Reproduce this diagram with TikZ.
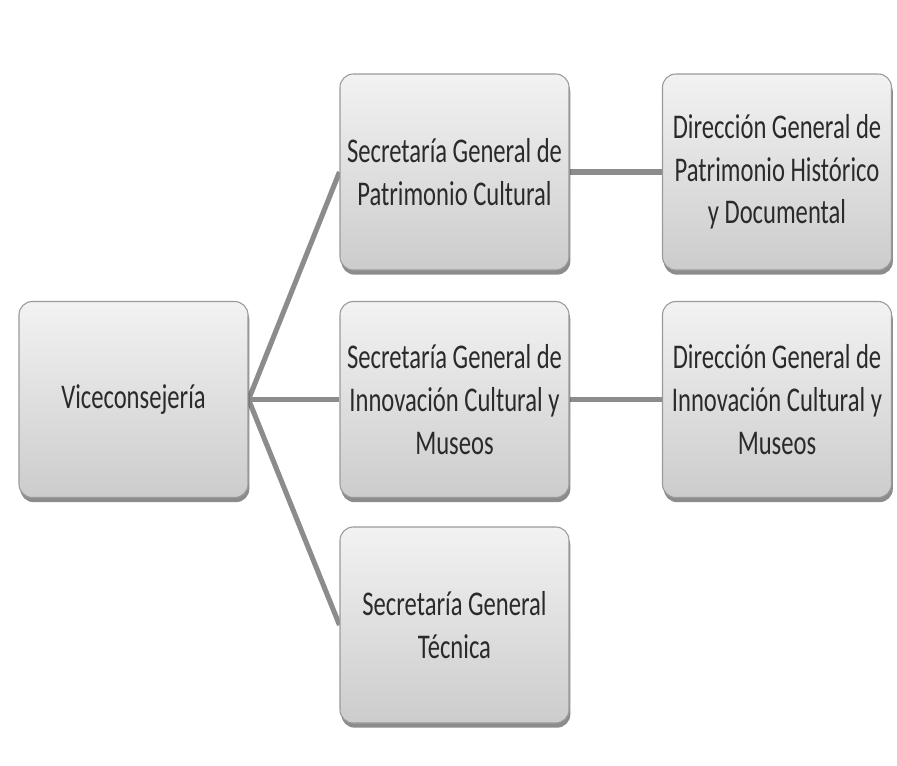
\documentclass[tikz,border=0pt]{standalone}
\usepackage{fontspec}
\usetikzlibrary{shadows,backgrounds}
\newfontfamily\boxfont[FakeStretch=0.71]{Carlito}
\definecolor{linkgray}{HTML}{8C8C8C}
\definecolor{edgegray}{HTML}{9A9A9A}
\definecolor{textgray}{HTML}{2A2A2A}
\tikzset{
  orgbox/.style={
    draw=edgegray, line width=0.8pt, rounded corners=10pt,
    top color=white!95!black, bottom color=white!80!black,
    minimum width=171.75pt, minimum height=147pt,
    align=center, text=textgray,
    font=\boxfont\fontsize{26}{32}\selectfont,
    drop shadow={shadow xshift=1pt, shadow yshift=-3.5pt, opacity=0.45, fill=black}
  },
  orglink/.style={draw=linkgray, line width=3.8pt}
}
\begin{document}
\begin{tikzpicture}[x=0.75pt, y=-0.75pt]
  \useasboundingbox (0,0) rectangle (897,765);

  \node[orgbox] (vice) at (133.5,399.5) {Viceconsejería};
  \node[orgbox] (sgpc) at (454.5,172) {Secretaría General de\\Patrimonio Cultural};
  \node[orgbox] (sgic) at (454.5,399.5) {Secretaría General de\\Innovación Cultural y\\Museos};
  \node[orgbox] (sgt)  at (454.5,625) {Secretaría General\\Técnica};
  \node[orgbox] (dgph) at (777,172) {Dirección General de\\Patrimonio Histórico\\y Documental};
  \node[orgbox] (dgic) at (777,399.5) {Dirección General de\\Innovación Cultural y\\Museos};

  \begin{scope}[on background layer]
    \fill[white] (0,0) rectangle (897,765);
    \draw[orglink] (vice.east) -- (sgpc.west);
    \draw[orglink] (vice.east) -- (sgic.west);
    \draw[orglink] (vice.east) -- (sgt.west);
    \draw[orglink] (sgpc.east) -- (dgph.west);
    \draw[orglink] (sgic.east) -- (dgic.west);
  \end{scope}
\end{tikzpicture}
\end{document}
